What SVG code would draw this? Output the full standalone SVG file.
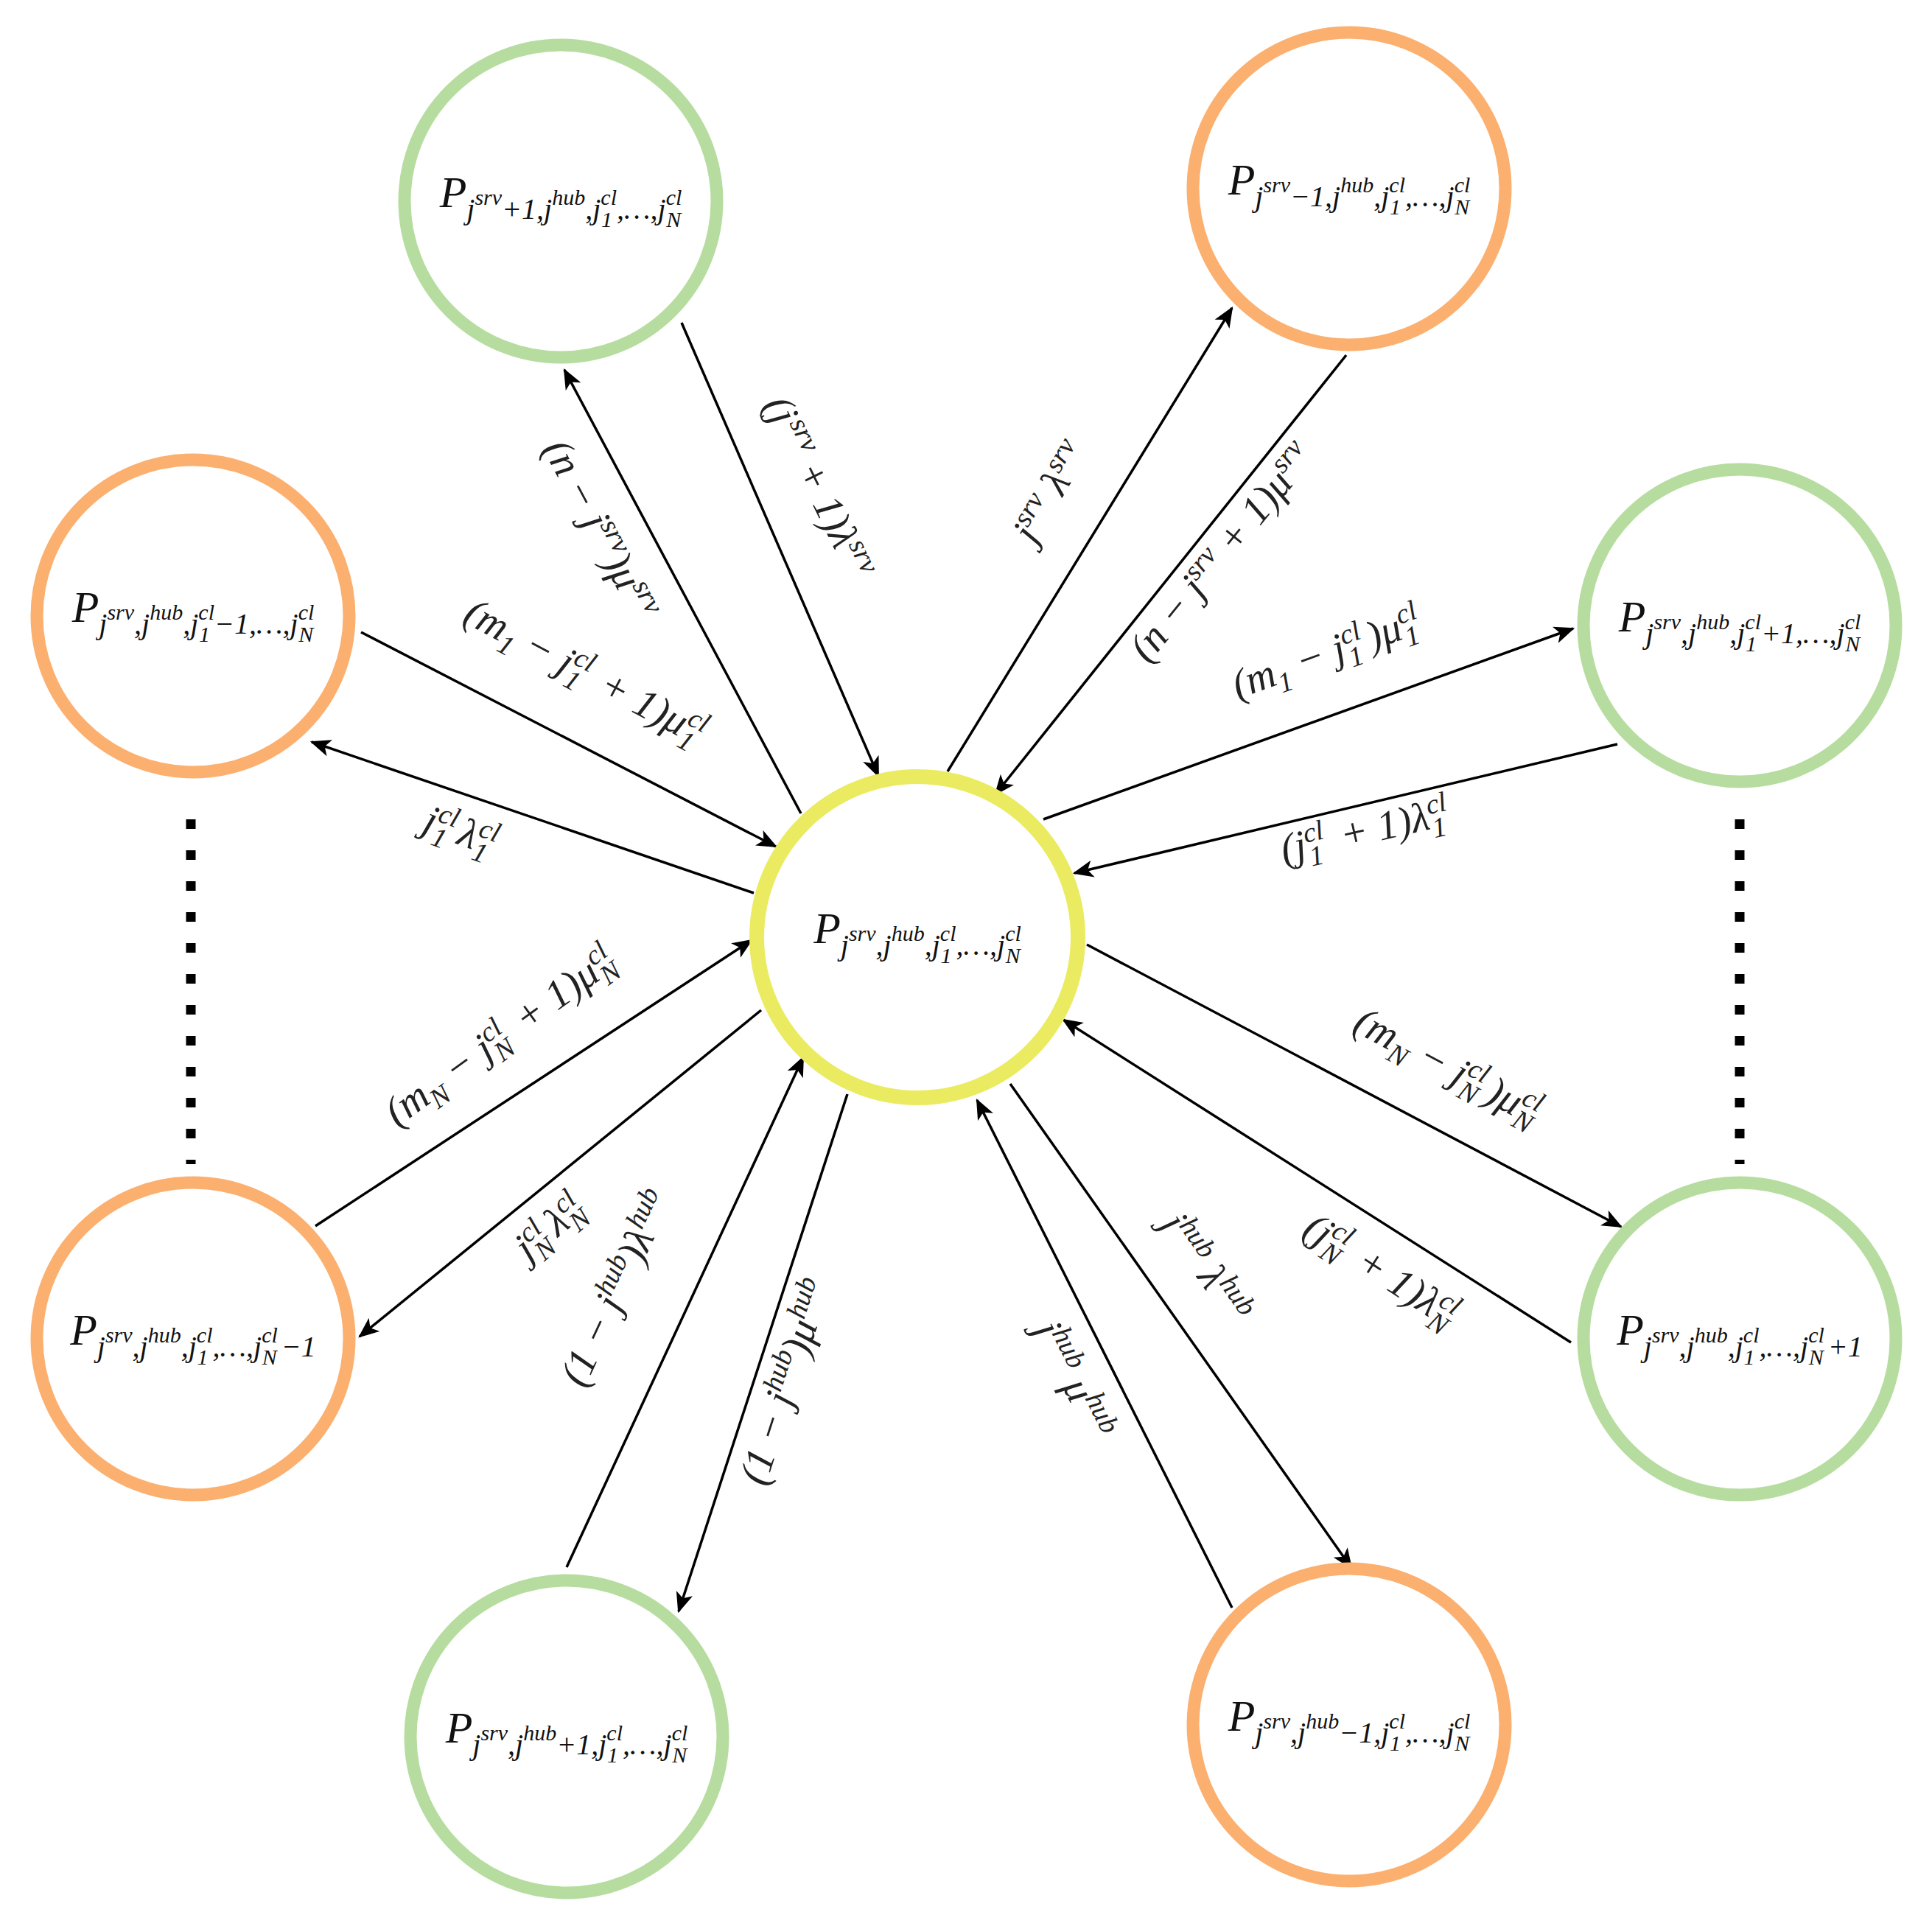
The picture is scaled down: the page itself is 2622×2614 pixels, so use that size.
<svg xmlns="http://www.w3.org/2000/svg" width="2622" height="2614" viewBox="0 0 2622 2614">
<style>
.g{fill:#fff;stroke:#b6dd9f;stroke-width:17}
.o{fill:#fff;stroke:#fbb070;stroke-width:17}
.y{fill:#fff;stroke:#ebeb62;stroke-width:20}
.n{font-family:"Liberation Serif",serif;font-style:italic;font-size:60px;fill:#111;text-anchor:middle}
.s{font-size:40px}
.ss{font-size:30px}
.e{font-family:"Liberation Serif",serif;font-style:italic;font-size:56px;fill:#222;text-anchor:middle}
.es{font-size:38px}
.c line{stroke:#000;stroke-width:3.5;marker-end:url(#a)}
.d{stroke:#000;stroke-width:13;stroke-dasharray:13 29}
</style>
<defs>
<marker id="a" viewBox="0 0 12 10" refX="11" refY="5" markerWidth="8" markerHeight="7" orient="auto" markerUnits="strokeWidth">
<path d="M0,0 L12,5 L0,10 L3,5 z" fill="#000"/>
</marker>
</defs>
<rect width="2622" height="2614" fill="#fff"/>
<g id="connectors" class="c">
<line x1="1087" y1="1104" x2="766" y2="502"/>
<line x1="925" y1="438" x2="1192" y2="1053"/>
<line x1="1286" y1="1047" x2="1672" y2="418"/>
<line x1="1827" y1="482" x2="1351" y2="1078"/>
<line x1="1416" y1="1112" x2="2135" y2="853"/>
<line x1="2195" y1="1010" x2="1458" y2="1185"/>
<line x1="1475" y1="1282" x2="2200" y2="1665"/>
<line x1="2132" y1="1822" x2="1443" y2="1384"/>
<line x1="1371" y1="1471" x2="1834" y2="2128"/>
<line x1="1672" y1="2182" x2="1326" y2="1493"/>
<line x1="1150" y1="1485" x2="921" y2="2187"/>
<line x1="769" y1="2127" x2="1090" y2="1435"/>
<line x1="1033" y1="1371" x2="488" y2="1814"/>
<line x1="428" y1="1664" x2="1020" y2="1276"/>
<line x1="1023" y1="1212" x2="423" y2="1007"/>
<line x1="490" y1="858" x2="1053" y2="1149"/>
</g>
<g id="dots">
<line class="d" x1="259" y1="1112" x2="259" y2="1580"/>
<line class="d" x1="2361" y1="1112" x2="2361" y2="1580"/>
</g>
<g id="center"><circle class="y" cx="1245" cy="1272" r="218"/>
<text class="n" x="1245" y="1280">P<tspan class="s" dy="16">j</tspan><tspan class="ss" dy="-19">srv</tspan><tspan class="s" dy="19">,j</tspan><tspan class="ss" dy="-19">hub</tspan><tspan class="s" dy="19">,j</tspan><tspan class="ss" dy="-19">cl</tspan><tspan class="ss" dx="-21" dy="30">1</tspan><tspan class="s" dx="6" dy="-11">,…,j</tspan><tspan class="ss" dy="-19">cl</tspan><tspan class="ss" dx="-21" dy="30">N</tspan></text></g>
<g id="tl"><circle class="g" cx="761" cy="273" r="212"/>
<text class="n" x="761" y="281">P<tspan class="s" dy="16">j</tspan><tspan class="ss" dy="-19">srv</tspan><tspan class="s" dy="19">+1,j</tspan><tspan class="ss" dy="-19">hub</tspan><tspan class="s" dy="19">,j</tspan><tspan class="ss" dy="-19">cl</tspan><tspan class="ss" dx="-21" dy="30">1</tspan><tspan class="s" dx="6" dy="-11">,…,j</tspan><tspan class="ss" dy="-19">cl</tspan><tspan class="ss" dx="-21" dy="30">N</tspan></text></g>
<g id="tr"><circle class="o" cx="1831" cy="256" r="212"/>
<text class="n" x="1831" y="264">P<tspan class="s" dy="16">j</tspan><tspan class="ss" dy="-19">srv</tspan><tspan class="s" dy="19">−1,j</tspan><tspan class="ss" dy="-19">hub</tspan><tspan class="s" dy="19">,j</tspan><tspan class="ss" dy="-19">cl</tspan><tspan class="ss" dx="-21" dy="30">1</tspan><tspan class="s" dx="6" dy="-11">,…,j</tspan><tspan class="ss" dy="-19">cl</tspan><tspan class="ss" dx="-21" dy="30">N</tspan></text></g>
<g id="l"><circle class="o" cx="262" cy="836" r="212"/>
<text class="n" x="262" y="844">P<tspan class="s" dy="16">j</tspan><tspan class="ss" dy="-19">srv</tspan><tspan class="s" dy="19">,j</tspan><tspan class="ss" dy="-19">hub</tspan><tspan class="s" dy="19">,j</tspan><tspan class="ss" dy="-19">cl</tspan><tspan class="ss" dx="-21" dy="30">1</tspan><tspan class="s" dx="6" dy="-11">−1,…,j</tspan><tspan class="ss" dy="-19">cl</tspan><tspan class="ss" dx="-21" dy="30">N</tspan></text></g>
<g id="r"><circle class="g" cx="2361" cy="849" r="212"/>
<text class="n" x="2361" y="857">P<tspan class="s" dy="16">j</tspan><tspan class="ss" dy="-19">srv</tspan><tspan class="s" dy="19">,j</tspan><tspan class="ss" dy="-19">hub</tspan><tspan class="s" dy="19">,j</tspan><tspan class="ss" dy="-19">cl</tspan><tspan class="ss" dx="-21" dy="30">1</tspan><tspan class="s" dx="6" dy="-11">+1,…,j</tspan><tspan class="ss" dy="-19">cl</tspan><tspan class="ss" dx="-21" dy="30">N</tspan></text></g>
<g id="bl"><circle class="o" cx="262" cy="1817" r="212"/>
<text class="n" x="262" y="1825">P<tspan class="s" dy="16">j</tspan><tspan class="ss" dy="-19">srv</tspan><tspan class="s" dy="19">,j</tspan><tspan class="ss" dy="-19">hub</tspan><tspan class="s" dy="19">,j</tspan><tspan class="ss" dy="-19">cl</tspan><tspan class="ss" dx="-21" dy="30">1</tspan><tspan class="s" dx="6" dy="-11">,…,j</tspan><tspan class="ss" dy="-19">cl</tspan><tspan class="ss" dx="-21" dy="30">N</tspan><tspan class="s" dx="6" dy="-11">−1</tspan></text></g>
<g id="br"><circle class="g" cx="2361" cy="1817" r="212"/>
<text class="n" x="2361" y="1825">P<tspan class="s" dy="16">j</tspan><tspan class="ss" dy="-19">srv</tspan><tspan class="s" dy="19">,j</tspan><tspan class="ss" dy="-19">hub</tspan><tspan class="s" dy="19">,j</tspan><tspan class="ss" dy="-19">cl</tspan><tspan class="ss" dx="-21" dy="30">1</tspan><tspan class="s" dx="6" dy="-11">,…,j</tspan><tspan class="ss" dy="-19">cl</tspan><tspan class="ss" dx="-21" dy="30">N</tspan><tspan class="s" dx="6" dy="-11">+1</tspan></text></g>
<g id="b"><circle class="g" cx="769" cy="2357" r="212"/>
<text class="n" x="769" y="2365">P<tspan class="s" dy="16">j</tspan><tspan class="ss" dy="-19">srv</tspan><tspan class="s" dy="19">,j</tspan><tspan class="ss" dy="-19">hub</tspan><tspan class="s" dy="19">+1,j</tspan><tspan class="ss" dy="-19">cl</tspan><tspan class="ss" dx="-21" dy="30">1</tspan><tspan class="s" dx="6" dy="-11">,…,j</tspan><tspan class="ss" dy="-19">cl</tspan><tspan class="ss" dx="-21" dy="30">N</tspan></text></g>
<g id="bo"><circle class="o" cx="1831" cy="2341" r="212"/>
<text class="n" x="1831" y="2349">P<tspan class="s" dy="16">j</tspan><tspan class="ss" dy="-19">srv</tspan><tspan class="s" dy="19">,j</tspan><tspan class="ss" dy="-19">hub</tspan><tspan class="s" dy="19">−1,j</tspan><tspan class="ss" dy="-19">cl</tspan><tspan class="ss" dx="-21" dy="30">1</tspan><tspan class="s" dx="6" dy="-11">,…,j</tspan><tspan class="ss" dy="-19">cl</tspan><tspan class="ss" dx="-21" dy="30">N</tspan></text></g>
<g id="labels">
<text class="e" transform="translate(799,727) rotate(62)">(n − j<tspan class="es" dy="-20">srv</tspan><tspan dy="20">)μ</tspan><tspan class="es" dy="-20">srv</tspan></text>
<text class="e" transform="translate(1095,669) rotate(64)">(j<tspan class="es" dx="4" dy="-20">srv</tspan><tspan dy="20"> + 1)λ</tspan><tspan class="es" dy="-20">srv</tspan></text>
<text class="e" transform="translate(1441,677) rotate(-60)">j<tspan class="es" dy="-20">srv</tspan><tspan dy="20"> λ</tspan><tspan class="es" dy="-20">srv</tspan></text>
<text class="e" transform="translate(1672,761) rotate(-51)">(n − j<tspan class="es" dy="-20">srv</tspan><tspan dy="20"> + 1)μ</tspan><tspan class="es" dy="-20">srv</tspan></text>
<text class="e" transform="translate(1806,903) rotate(-20)">(m<tspan class="es" dy="13">1</tspan><tspan dy="-13"> − j</tspan><tspan class="es" dy="-20">cl</tspan><tspan class="es" dx="-26" dy="33">1</tspan><tspan dx="14" dy="-13">)μ</tspan><tspan class="es" dy="-20">cl</tspan><tspan class="es" dx="-26" dy="33">1</tspan></text>
<text class="e" transform="translate(1856,1145) rotate(-13)">(j<tspan class="es" dy="-20">cl</tspan><tspan class="es" dx="-26" dy="33">1</tspan><tspan dx="14" dy="-13"> + 1)λ</tspan><tspan class="es" dy="-20">cl</tspan><tspan class="es" dx="-26" dy="33">1</tspan></text>
<text class="e" transform="translate(1956,1463) rotate(28)">(m<tspan class="es" dy="13">N</tspan><tspan dy="-13"> − j</tspan><tspan class="es" dy="-20">cl</tspan><tspan class="es" dx="-26" dy="33">N</tspan><tspan dx="10" dy="-13">)μ</tspan><tspan class="es" dy="-20">cl</tspan><tspan class="es" dx="-26" dy="33">N</tspan></text>
<text class="e" transform="translate(1864,1739) rotate(33)">(j<tspan class="es" dy="-20">cl</tspan><tspan class="es" dx="-26" dy="33">N</tspan><tspan dx="10" dy="-13"> + 1)λ</tspan><tspan class="es" dy="-20">cl</tspan><tspan class="es" dx="-26" dy="33">N</tspan></text>
<text class="e" transform="translate(1622,1731) rotate(55)">j<tspan class="es" dy="-20">hub</tspan><tspan dy="20"> λ</tspan><tspan class="es" dy="-20">hub</tspan></text>
<text class="e" transform="translate(1441,1881) rotate(63)">j<tspan class="es" dy="-20">hub</tspan><tspan dy="20"> μ</tspan><tspan class="es" dy="-20">hub</tspan></text>
<text class="e" transform="translate(1083,1881) rotate(-72)">(1 − j<tspan class="es" dy="-20">hub</tspan><tspan dy="20">)μ</tspan><tspan class="es" dy="-20">hub</tspan></text>
<text class="e" transform="translate(853,1756) rotate(-65)">(1 − j<tspan class="es" dy="-20">hub</tspan><tspan dy="20">)λ</tspan><tspan class="es" dy="-20">hub</tspan></text>
<text class="e" transform="translate(757,1680) rotate(-40)">j<tspan class="es" dy="-20">cl</tspan><tspan class="es" dx="-26" dy="33">N</tspan><tspan dx="10" dy="-13">λ</tspan><tspan class="es" dy="-20">cl</tspan><tspan class="es" dx="-26" dy="33">N</tspan></text>
<text class="e" transform="translate(689,1421) rotate(-36)">(m<tspan class="es" dy="13">N</tspan><tspan dy="-13"> − j</tspan><tspan class="es" dy="-20">cl</tspan><tspan class="es" dx="-26" dy="33">N</tspan><tspan dx="10" dy="-13"> + 1)μ</tspan><tspan class="es" dy="-20">cl</tspan><tspan class="es" dx="-26" dy="33">N</tspan></text>
<text class="e" transform="translate(619,1145) rotate(20)">j<tspan class="es" dy="-20">cl</tspan><tspan class="es" dx="-26" dy="33">1</tspan><tspan dx="14" dy="-13">λ</tspan><tspan class="es" dy="-20">cl</tspan><tspan class="es" dx="-26" dy="33">1</tspan></text>
<text class="e" transform="translate(786,928) rotate(28)">(m<tspan class="es" dy="13">1</tspan><tspan dy="-13"> − j</tspan><tspan class="es" dy="-20">cl</tspan><tspan class="es" dx="-26" dy="33">1</tspan><tspan dx="14" dy="-13"> + 1)μ</tspan><tspan class="es" dy="-20">cl</tspan><tspan class="es" dx="-26" dy="33">1</tspan></text>
</g>
</svg>
